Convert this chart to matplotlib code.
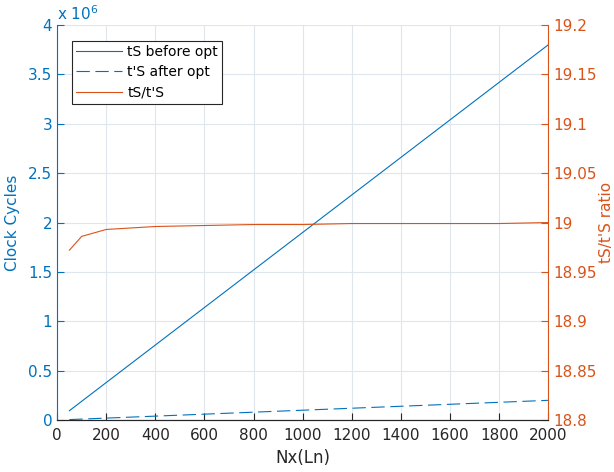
import numpy as np
import matplotlib
matplotlib.use('Agg')
import matplotlib.pyplot as plt
from matplotlib.ticker import FuncFormatter

# data
nx = [50, 100, 200, 400, 600, 800, 1000, 1200, 1400, 1600, 1800, 2000]
ts_before = [95000, 190000, 380000, 760000, 1140000, 1520000, 1900000,
             2280000, 2660000, 3040000, 3420000, 3800000]
ts_after = [5007, 10010, 20015, 40008, 60010, 80008, 100006,
            120005, 140004, 160003, 180002, 200000]
ratio = [18.972, 18.986, 18.993, 18.996, 18.997, 18.998, 18.998,
         18.999, 18.999, 18.999, 18.999, 19.0]

blue = '#0072BD'
orange = '#D95319'
dark = '#262626'

plt.rcParams['font.family'] = 'DejaVu Sans'
plt.rcParams['font.size'] = 10

fig = plt.figure(figsize=(6.14, 4.72), dpi=100)
ax = fig.add_axes([0.093, 0.110, 0.8, 0.837])
ax2 = ax.twinx()

l1, = ax.plot(nx, ts_before, color=blue, lw=0.8, label='tS before opt')
l2, = ax.plot(nx, ts_after, color=blue, lw=0.8, ls=(0, (12, 5)), label="t'S after opt")
l3, = ax2.plot(nx, ratio, color=orange, lw=0.8, label="tS/t'S")

ax.set_xlim(0, 2000)
ax.set_ylim(0, 4e6)
ax2.set_ylim(18.8, 19.2)
ax.set_xticks(np.arange(0, 2001, 200))
ax.set_yticks(np.arange(0, 4.01e6, 0.5e6))
ax2.set_yticks(np.arange(18.8, 19.201, 0.05))
ax.yaxis.set_major_formatter(FuncFormatter(lambda v, p: '%g' % (v / 1e6)))
ax2.yaxis.set_major_formatter(FuncFormatter(lambda v, p: '%g' % round(v, 2)))

ax.grid(True, color='#dfe6ee', lw=0.8)
ax.set_axisbelow(True)

for a in (ax, ax2):
    a.spines['top'].set_visible(False)
    a.spines['bottom'].set_color(dark)
ax.spines['left'].set_color(blue)
ax.spines['right'].set_visible(False)
ax2.spines['left'].set_visible(False)
ax2.spines['right'].set_color(orange)

ax.tick_params(axis='x', direction='in', colors=dark, labelsize=11, length=5, pad=6)
ax.tick_params(axis='y', direction='in', colors=blue, labelsize=11, length=5)
ax2.tick_params(axis='y', direction='in', colors=orange, labelsize=11, length=5)

ax.set_xlabel('Nx(Ln)', fontsize=12, color=dark)
ax.set_ylabel('Clock Cycles', fontsize=11, color=blue, labelpad=6)
ax2.set_ylabel("tS/t'S ratio", fontsize=11, color=orange, labelpad=2)

ax.text(0.0, 1.005, r'x 10$^6$', transform=ax.transAxes, color=blue,
        fontsize=11, ha='left', va='bottom')

leg = ax.legend(handles=[l1, l2, l3], loc='upper left', bbox_to_anchor=(0.03, 0.96),
                borderaxespad=0, handlelength=3.3, fontsize=10, fancybox=False,
                framealpha=1, edgecolor=dark, borderpad=0.3, labelspacing=0.45,
                handletextpad=0.4)
leg.get_frame().set_linewidth(0.8)

fig.savefig('out.png', dpi=100)
